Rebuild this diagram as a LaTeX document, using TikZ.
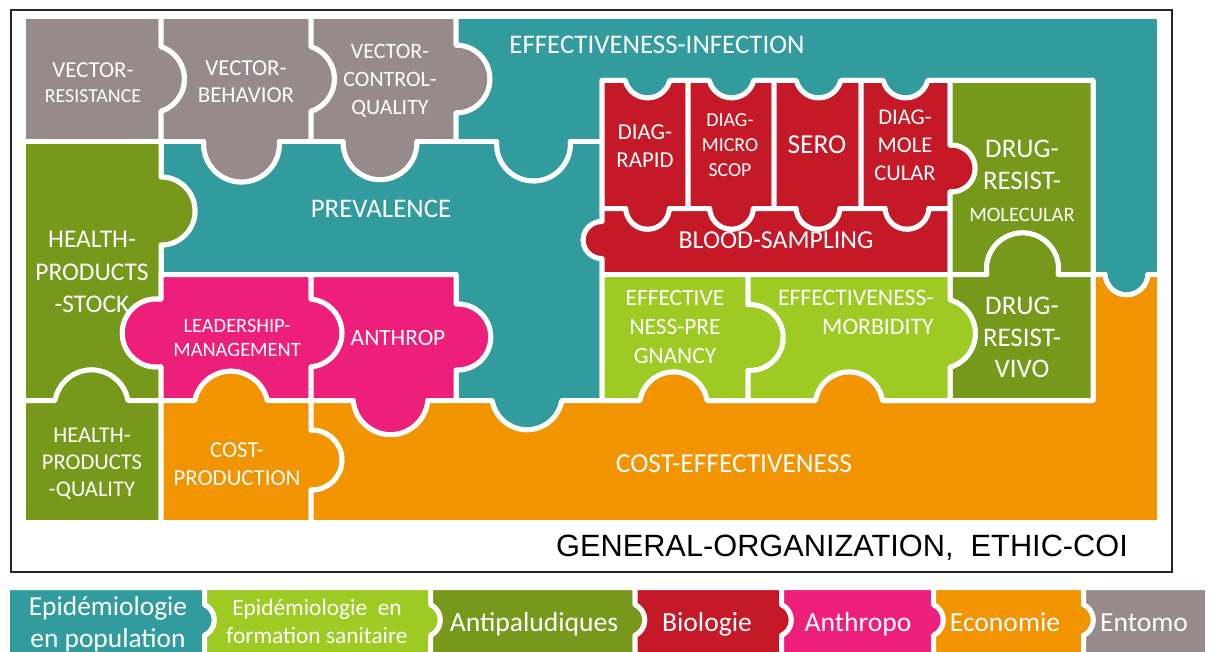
\documentclass[tikz,border=0pt]{standalone}
\usepackage{fontspec}
\newfontfamily\carl{Carlito}
\newfontfamily\arl{Liberation Sans}

\definecolor{tealc}{HTML}{329B9D}
\definecolor{greyc}{HTML}{968B8A}
\definecolor{olivec}{HTML}{76991B}
\definecolor{limec}{HTML}{9DCB23}
\definecolor{redc}{HTML}{C51927}
\definecolor{pinkc}{HTML}{EE1F7B}
\definecolor{orngc}{HTML}{F29300}

% knob (out) and notch (in) on an edge: {pos along edge}{edge}{radius}{angle}
\newcommand\knobT[4]{-- ({#1-#3*cos(#4)},#2) arc[start angle={180-(#4)}, end angle={360+(#4)}, radius=#3]}
\newcommand\notchT[4]{-- ({#1-#3*cos(#4)},#2) arc[start angle={180+(#4)}, end angle={-(#4)}, radius=#3]}
\newcommand\knobR[4]{-- (#2,{#1-#3*cos(#4)}) arc[start angle={270-(#4)}, end angle={450+(#4)}, radius=#3]}
\newcommand\notchR[4]{-- (#2,{#1-#3*cos(#4)}) arc[start angle={(#4)-90}, end angle={-270-(#4)}, radius=#3]}
\newcommand\knobB[4]{-- ({#1+#3*cos(#4)},#2) arc[start angle={-(#4)}, end angle={180+(#4)}, radius=#3]}
\newcommand\notchB[4]{-- ({#1+#3*cos(#4)},#2) arc[start angle={#4}, end angle={-180-(#4)}, radius=#3]}
\newcommand\knobL[4]{-- (#2,{#1+#3*cos(#4)}) arc[start angle={90-(#4)}, end angle={270+(#4)}, radius=#3]}
\newcommand\notchL[4]{-- (#2,{#1+#3*cos(#4)}) arc[start angle={90+(#4)}, end angle={-90-(#4)}, radius=#3]}

\tikzset{
  piece/.style={fill=#1, draw=white, line width=0.1cm, line join=round},
  lbl/.style 2 args={text=white, align=center, inner sep=0pt, font=\carl\fontsize{#1}{#2}\selectfont},
}

\begin{document}
\begin{tikzpicture}[x=0.02cm, y=-0.02cm]
  \fill[white] (0,0) rectangle (1210,652);
  \useasboundingbox (0,0) rectangle (1210,652);
  \clip (0,0) rectangle (1210,652);

  \draw[line width=0.05cm, black!85] (11,10) rectangle (1172,572);

  % entomo
  \fill[piece=greyc] (23.5,16.5) -- (161,16.5) \knobR{79}{161}{34}{-18} -- (161,141.5) -- (23.5,141.5) -- cycle;
  \fill[piece=greyc] (161,16.5) -- (311,16.5) \knobR{79}{311}{34}{-18} -- (311,141.5) \knobB{241.5}{141.5}{38}{4} -- (161,141.5) \notchL{79}{161}{34}{-18} -- cycle;
  \fill[piece=greyc] (311,16.5) -- (456,16.5) \knobR{79}{456}{34}{0} -- (456,141.5) \knobB{380}{141.5}{37}{2} -- (311,141.5) \notchL{79}{311}{34}{-18} -- cycle;

  % epidemiologie
  \fill[piece=tealc] (456,16.5) -- (1159.5,16.5) -- (1159.5,274.5) \knobB{1126.5}{274.5}{21.5}{-3} -- (1093,274.5) -- (1093,80.5)
    \knobB{905.5}{80.5}{23}{-14} \knobB{818.5}{80.5}{23}{-14} \knobB{731.5}{80.5}{23}{-14} \knobB{647.5}{80.5}{23}{-14}
    -- (602,80.5) -- (602,141.5) \knobB{533.5}{141.5}{37}{4} -- (456,141.5) \notchL{79}{456}{34}{0} -- cycle;
  \fill[piece=tealc] (161,141.5) \notchT{241.5}{141.5}{38}{4} -- (311,141.5) \notchT{380}{141.5}{37}{2} \notchT{533.5}{141.5}{37}{4}
    -- (602,141.5) \notchR{240}{602}{18.5}{1} -- (602,400.5) \knobB{527}{400.5}{35.5}{-10} -- (456,400.5)
    \notchL{337}{456}{33}{3} -- (456,274.5) -- (161,274.5) \notchL{211}{161}{34}{0} -- cycle;

  % antipaludiques
  \fill[piece=olivec] (23.5,141.5) -- (161,141.5) \knobR{211}{161}{34}{0} \notchR{333}{161}{34}{8} -- (161,400.5) \notchB{91.5}{400.5}{37}{-10} -- (23.5,400.5) -- cycle;
  \fill[piece=olivec] (23.5,400.5) \knobT{91.5}{400.5}{37}{-10} -- (161,400.5) -- (161,522.5) -- (23.5,522.5) -- cycle;

  % anthropo
  \fill[piece=pinkc] (161,274.5) -- (311,274.5) \knobR{333}{311}{34}{-5} -- (311,400.5) \notchB{231}{400.5}{37}{-12} -- (161,400.5) \knobL{333}{161}{34}{8} -- cycle;
  \fill[piece=pinkc] (311,274.5) -- (456,274.5) \knobR{337}{456}{33}{3} -- (456,400.5) \knobB{390.5}{400.5}{37.5}{-5} -- (311,400.5) \notchL{333}{311}{34}{-5} -- cycle;

  % economie
  \fill[piece=orngc] (161,400.5) \knobT{231}{400.5}{37}{-12} -- (311,400.5) \knobR{460}{311}{30}{2} -- (311,522.5) -- (161,522.5) -- cycle;
  \fill[piece=orngc] (311,400.5) \notchT{390.5}{400.5}{37.5}{-5} \notchT{527}{400.5}{35.5}{-10} \knobT{673.5}{400.5}{34}{-9} \knobT{849}{400.5}{34}{-9}
    -- (1093,400.5) -- (1093,274.5) \notchT{1126.5}{274.5}{21.5}{-3} -- (1159.5,274.5) -- (1159.5,522.5) -- (311,522.5) \notchL{460}{311}{30}{2} -- cycle;

  % biologie
  \fill[piece=redc] (602,80.5) \notchT{647.5}{80.5}{23}{-14} -- (688,80.5) -- (688,208.5) \knobB{647.5}{208.5}{22}{-3} -- (602,208.5) -- cycle;
  \fill[piece=redc] (688,80.5) \notchT{731.5}{80.5}{23}{-14} -- (774,80.5) -- (774,208.5) \knobB{731.5}{208.5}{22}{-3} -- (688,208.5) -- cycle;
  \fill[piece=redc] (774,80.5) \notchT{818.5}{80.5}{23}{-14} -- (861,80.5) -- (861,208.5) \knobB{818}{208.5}{22}{-3} -- (774,208.5) -- cycle;
  \fill[piece=redc] (861,80.5) \notchT{905.5}{80.5}{23}{-14} -- (950,80.5) \knobR{168.5}{950}{23.5}{4} -- (950,208.5) \knobB{907}{208.5}{22}{-3} -- (861,208.5) -- cycle;
  \fill[piece=redc] (602,208.5) \notchT{647.5}{208.5}{22}{-3} \notchT{731.5}{208.5}{22}{-3} \notchT{818}{208.5}{22}{-3} \notchT{907}{208.5}{22}{-3}
    -- (950,208.5) -- (950,274.5) -- (602,274.5) \knobL{240}{602}{18.5}{1} -- cycle;

  \fill[piece=olivec] (950,80.5) -- (1093,80.5) -- (1093,274.5) \notchB{1022.5}{274.5}{36}{9} -- (950,274.5) \notchL{168.5}{950}{23.5}{4} -- cycle;
  \fill[piece=olivec] (950,274.5) \knobT{1022.5}{274.5}{36}{9} -- (1093,274.5) -- (1093,400.5) -- (950,400.5) \notchL{333.5}{950}{35}{-16} -- cycle;
  \fill[piece=limec] (602,274.5) -- (748,274.5) \knobR{337.5}{748}{33}{4} -- (748,400.5) \notchB{673.5}{400.5}{34}{-9} -- (602,400.5) -- cycle;
  \fill[piece=limec] (748,274.5) -- (950,274.5) \knobR{333.5}{950}{35}{-16} -- (950,400.5) \notchB{849}{400.5}{34}{-9} -- (748,400.5) \notchL{337.5}{748}{33}{4} -- cycle;

  \node[lbl={13}{14.2}] (vres) at (93,82.5) {VECTOR-\\{\fontsize{11.3}{14.2}\selectfont RESISTANCE}};
  \node[lbl={13}{15.3}] (vbeh) at (246,81.5) {VECTOR-\\BEHAVIOR};
  \node[lbl={12.5}{15.9}] (vcq) at (390,81) {VECTOR-\\CONTROL-\\QUALITY};
  \node[lbl={15.3}{17}] (einf) at (657,45) {EFFECTIVENESS-INFECTION};
  \node[lbl={15.3}{17}] (prev) at (381,209) {PREVALENCE};
  \node[lbl={14.5}{18.4}] (hps) at (92,272) {HEALTH-\\PRODUCTS\\-STOCK};
  \node[lbl={11.6}{13.6}] (lead) at (237,338) {LEADERSHIP-\\MANAGEMENT};
  \node[lbl={13.3}{15}] (anth) at (398,338) {ANTHROP};
  \node[lbl={12.8}{15.3}] (hpq) at (92,464) {HEALTH-\\PRODUCTS\\-QUALITY};
  \node[lbl={13}{15.9}] (cprod) at (237,464) {COST-\\PRODUCTION};
  \node[lbl={15.6}{17}] (ceff) at (734,464) {COST-EFFECTIVENESS};
  \node[lbl={13}{15.9}] (drap) at (645,146) {DIAG-\\RAPID};
  \node[lbl={11.3}{14.2}] (dmic) at (730,145) {DIAG-\\MICRO\\SCOP};
  \node[lbl={15.6}{17}] (sero) at (817,145) {SERO};
  \node[lbl={12.8}{15.9}] (dmol) at (905,145) {DIAG-\\MOLE\\CULAR};
  \node[lbl={15.3}{18.1}] (drm) at (1022,181) {DRUG-\\RESIST-\\{\fontsize{11.7}{18.1}\selectfont MOLECULAR}};
  \node[lbl={14.7}{17}] (blood) at (776,240) {BLOOD-SAMPLING};
  \node[lbl={13.3}{16.4}] (epreg) at (675,327) {EFFECTIVE\\NESS-PRE\\GNANCY};
  \node[lbl={13.5}{16.4}, anchor=east, align=right] (emorb) at (934,312.5) {EFFECTIVENESS-\\MORBIDITY};
  \node[lbl={15.3}{18.1}] (drv) at (1022,337.5) {DRUG-\\RESIST-\\VIVO};
  \node[font=\arl\fontsize{17.5}{20}\selectfont, inner sep=0pt] (gen) at (842,548) {GENERAL-ORGANIZATION,\ \ ETHIC-COI};

  % legend
  \fill[piece=tealc] (7.5,587.5) -- (204.5,587.5) \knobR{620}{204.5}{17}{-25} -- (204.5,660) -- (7.5,660) -- cycle;
  \foreach \a/\b/\c in {204.5/430.5/limec,430.5/635/olivec,635/781.5/redc,781.5/933.5/pinkc,933.5/1083.5/orngc}{
    \fill[piece=\c] (\a,587.5) -- (\b,587.5) \knobR{620}{\b}{17}{-25} -- (\b,660) -- (\a,660) \notchL{620}{\a}{17}{-25} -- cycle;
  }
  \fill[piece=greyc] (1083.5,587.5) -- (1207.5,587.5) -- (1207.5,660) -- (1083.5,660) \notchL{620}{1083.5}{17}{-25} -- cycle;

  \node[lbl={15.6}{18.1}] (lepi) at (108,624) {Epidémiologie\\en population};
  \node[lbl={13.3}{16.4}] (lepf) at (317,621.5) {Epidémiologie\ \ en\\formation sanitaire};
  \node[lbl={15.7}{17}, anchor=base] (lanti) at (534,631) {Antipaludiques};
  \node[lbl={15.7}{17}, anchor=base] (lbio) at (707,631) {Biologie};
  \node[lbl={15.7}{17}, anchor=base] (lanthro) at (858,631) {Anthropo};
  \node[lbl={15.7}{17}, anchor=base] (leco) at (1005,631) {Economie};
  \node[lbl={15.7}{17}, anchor=base] (lento) at (1144,631) {Entomo};
\end{tikzpicture}
\end{document}
